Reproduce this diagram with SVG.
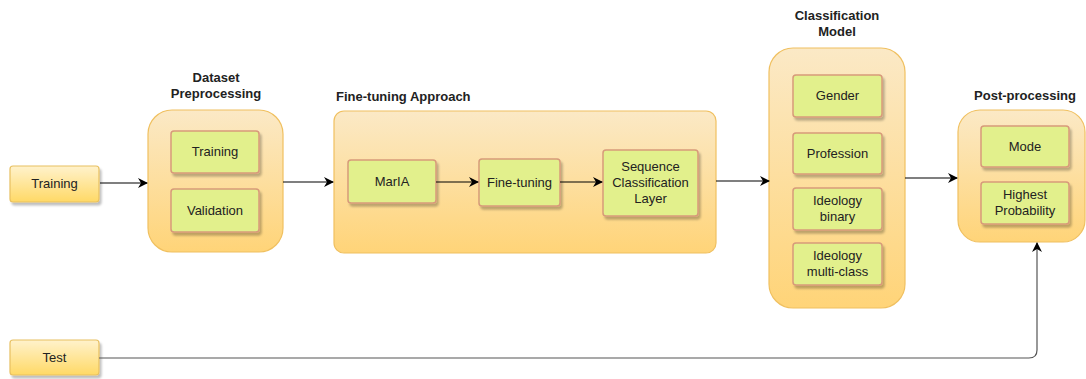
<svg xmlns="http://www.w3.org/2000/svg" width="1086" height="379" viewBox="0 0 1086 379">
<defs>
<linearGradient id="gIn" x1="0" y1="0" x2="0" y2="1"><stop offset="0" stop-color="#fff2cc"/><stop offset="1" stop-color="#ffd966"/></linearGradient>
<linearGradient id="gCont" x1="0" y1="0" x2="0" y2="1"><stop offset="0" stop-color="#fbe9c6"/><stop offset="1" stop-color="#ffd478"/></linearGradient>
<filter id="sh" x="-10%" y="-10%" width="130%" height="130%"><feDropShadow dx="2" dy="3" stdDeviation="1.2" flood-color="#000" flood-opacity="0.25"/></filter>
<marker id="arr" viewBox="0 0 10 10" refX="9" refY="5" markerWidth="10" markerHeight="10" markerUnits="userSpaceOnUse" orient="auto"><path d="M0,0 L10,5 L0,10 L3,5 Z" fill="#000"/></marker>
<style>
.inp{fill:url(#gIn);stroke:#e8c061;stroke-width:1.2;filter:url(#sh)}
.cont{fill:url(#gCont);stroke:#f0c060;stroke-width:1.2}
.box{fill:#e2f08c;stroke:#d79a7a;stroke-width:1.5;filter:url(#sh)}
.t{font-family:"Liberation Sans",Arial,sans-serif;font-size:13px;fill:#222;text-anchor:middle}
.h{font-family:"Liberation Sans",Arial,sans-serif;font-size:13px;font-weight:bold;fill:#222;text-anchor:middle}
.c{fill:none;stroke:#000;stroke-width:1.2;marker-end:url(#arr)}
</style>
</defs>
<g id="training-input"><rect class="inp" x="10" y="166" width="89" height="36" rx="3"/><text class="t" x="54.5" y="188">Training</text></g>
<g id="test-input"><rect class="inp" x="10" y="340" width="89" height="35" rx="3"/><text class="t" x="54.5" y="362">Test</text></g>
<g id="dataset-preprocessing">
<text class="h" x="216" y="82">Dataset</text><text class="h" x="216" y="98">Preprocessing</text>
<rect class="cont" x="148" y="110" width="135" height="142" rx="24"/>
<rect class="box" x="171" y="131" width="88" height="42" rx="3"/><text class="t" x="215" y="156">Training</text>
<rect class="box" x="171" y="189" width="88" height="43" rx="3"/><text class="t" x="215" y="215">Validation</text>
</g>
<g id="fine-tuning-approach">
<text class="h" x="336" y="101" style="text-anchor:start">Fine-tuning Approach</text>
<rect class="cont" x="334" y="111" width="382" height="142" rx="10"/>
<rect class="box" x="348" y="160" width="88" height="43" rx="3"/><text class="t" x="392" y="186">MarIA</text>
<rect class="box" x="479" y="159" width="81" height="47" rx="3"/><text class="t" x="519.5" y="187">Fine-tuning</text>
<rect class="box" x="603" y="150" width="95" height="66" rx="3"/><text class="t" x="650.5" y="171">Sequence</text><text class="t" x="650.5" y="187">Classification</text><text class="t" x="650.5" y="203">Layer</text>
</g>
<g id="classification-model">
<text class="h" x="837" y="20">Classification</text><text class="h" x="837" y="36">Model</text>
<rect class="cont" x="769" y="48" width="136" height="260" rx="24"/>
<rect class="box" x="793" y="75" width="89" height="42" rx="3"/><text class="t" x="837.5" y="100">Gender</text>
<rect class="box" x="793" y="133" width="89" height="41" rx="3"/><text class="t" x="837.5" y="158">Profession</text>
<rect class="box" x="793" y="188" width="89" height="42" rx="3"/><text class="t" x="837.5" y="205">Ideology</text><text class="t" x="837.5" y="221">binary</text>
<rect class="box" x="793" y="243" width="89" height="42" rx="3"/><text class="t" x="837.5" y="260">Ideology</text><text class="t" x="837.5" y="276">multi-class</text>
</g>
<g id="post-processing">
<text class="h" x="1025" y="100">Post-processing</text>
<rect class="cont" x="958" y="110" width="127" height="132" rx="22"/>
<rect class="box" x="981" y="126" width="88" height="41" rx="3"/><text class="t" x="1025" y="151">Mode</text>
<rect class="box" x="981" y="182" width="88" height="42" rx="3"/><text class="t" x="1025" y="199">Highest</text><text class="t" x="1025" y="215">Probability</text>
</g>
<g id="connectors">
<path class="c" d="M100,183 L147,183"/>
<path class="c" d="M283,182 L333,182"/>
<path class="c" d="M436,182 L478,182"/>
<path class="c" d="M560,182 L602,182"/>
<path class="c" d="M716,181 L769,181"/>
<path class="c" d="M905,178 L957,178"/>
<path class="c" style="stroke:#555" d="M99,358 L1029,358 Q1037,358 1037,350 L1037,243"/>
</g>
</svg>
